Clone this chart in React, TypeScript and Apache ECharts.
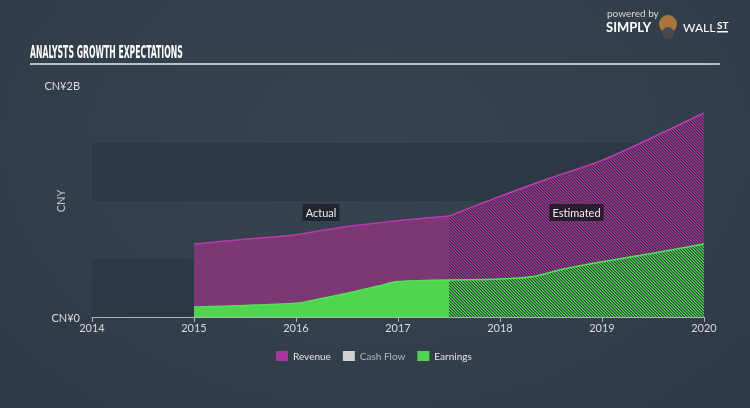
import React, { useEffect, useRef } from "react";
import * as echarts from "echarts";

const years = [2014, 2015, 2016, 2017, 2018, 2019, 2020];
const revenueActualX = [2015, 2015.5, 2016, 2016.5, 2017, 2017.5];
const revenueActual = [0.63, 0.67, 0.71, 0.78, 0.83, 0.87];
const revenueEstX = [2017.5, 2018, 2018.5, 2019, 2019.5, 2020];
const revenueEst = [0.87, 1.04, 1.2, 1.35, 1.55, 1.76];
const earningsActualX = [2015, 2015.5, 2016, 2016.2, 2016.5, 2016.8, 2017, 2017.5];
const earningsActual = [0.086, 0.1, 0.118, 0.15, 0.205, 0.265, 0.305, 0.32];
const earningsEstX = [2017.5, 2018, 2018.33, 2018.6, 2019, 2019.5, 2020];
const earningsEst = [0.32, 0.328, 0.35, 0.41, 0.477, 0.55, 0.63];
const legendNames = ["Revenue", "Cash Flow", "Earnings"];
const yTickLabels: Record<string, string> = { "0": "CN¥0", "2": "CN¥2B" };
const phaseLabels = [
  { name: "Actual", x: 2016.245, y: 0.9 },
  { name: "Estimated", x: 2018.75, y: 0.9 },
];

function hatch(a: string, m: string, b: string) {
  const c = document.createElement("canvas");
  c.width = 3;
  c.height = 3;
  const ctx = c.getContext("2d")!;
  for (let x = 0; x < 3; x++) {
    for (let y = 0; y < 3; y++) {
      const k = (((x - y) % 3) + 3) % 3;
      ctx.fillStyle = k === 0 ? a : k === 1 ? m : b;
      ctx.fillRect(x, y, 1, 1);
    }
  }
  return c;
}

function measure(text: string, font: string) {
  const ctx = document.createElement("canvas").getContext("2d")!;
  ctx.font = font;
  return ctx.measureText(text).width;
}

const pair = (xs: number[], ys: number[]) => xs.map((x, i) => [x, ys[i]]);

export default function App() {
  const ref = useRef<HTMLDivElement>(null);
  useEffect(() => {
    const chart = echarts.init(ref.current!, null, { renderer: "svg" });
    const titleText = "ANALYSTS GROWTH EXPECTATIONS";
    const titleFont = "bold 17px 'DejaVu Sans Condensed', 'DejaVu Sans'";
    const tw = measure(titleText, titleFont);
    const sx = 153 / tw;
    const font = "Lato, 'Open Sans', sans-serif";
    const revHatch = hatch("#a8389d", "#70326e", "#3a2b45");
    const earnHatch = hatch("#4fd54f", "#3f8f48", "#2f4a3c");

    chart.setOption({
      animation: false,
      backgroundColor: "transparent",
      textStyle: { fontFamily: font },
      grid: { left: 92, right: 46, top: 85, bottom: 91 },
      graphic: [
        {
          type: "text",
          x: 30,
          y: 52,
          scaleX: sx,
          style: {
            text: titleText,
            font: titleFont,
            fill: "#ffffff",
            verticalAlign: "middle",
          },
        },
        {
          type: "rect",
          shape: { x: 30, y: 63, width: 690, height: 2 },
          style: { fill: "#b9c0c8" },
        },
        {
          type: "text",
          x: 607,
          y: 13,
          style: { text: "powered by", font: `10px ${font}`, fill: "#d8d8d8", verticalAlign: "middle" },
        },
        {
          type: "text",
          x: 606,
          y: 27,
          style: { text: "SIMPLY", font: `bold 13px ${font}`, fill: "#ffffff", verticalAlign: "middle" },
        },
        {
          type: "circle",
          shape: { cx: 668, cy: 24, r: 9 },
          style: { fill: "#a9753c" },
        },
        {
          type: "circle",
          shape: { cx: 668, cy: 33, r: 6 },
          style: { fill: "#4a4a4a" },
        },
        {
          type: "text",
          x: 683,
          y: 27,
          style: { text: "WALL", font: `12px ${font}`, fill: "#ffffff", verticalAlign: "middle" },
        },
        {
          type: "text",
          x: 717,
          y: 25,
          style: { text: "ST", font: `bold 10px ${font}`, fill: "#ffffff", verticalAlign: "middle" },
        },
        {
          type: "rect",
          shape: { x: 717, y: 31, width: 11, height: 1.5 },
          style: { fill: "#ffffff" },
        },
      ],
      legend: {
        left: 276,
        top: 351,
        padding: 0,
        itemWidth: 12,
        itemHeight: 10,
        itemGap: 12,
        icon: "rect",
        data: [
          { name: legendNames[0], itemStyle: { color: "#a8389d" }, textStyle: { color: "#e6e6e6" } },
          { name: legendNames[1], itemStyle: { color: "#d0d0d0" }, textStyle: { color: "#b4b8bc" } },
          { name: legendNames[2], itemStyle: { color: "#4fd54f" }, textStyle: { color: "#e6e6e6" } },
        ],
        textStyle: { fontSize: 10, fontFamily: font },
        selectedMode: false,
      },
      xAxis: {
        type: "value",
        min: years[0],
        max: years[years.length - 1],
        interval: 1,
        axisLine: { lineStyle: { color: "#aab2ba", width: 1 } },
        axisTick: { show: true, length: 5, lineStyle: { color: "#aab2ba" } },
        axisLabel: { color: "#dcdcdc", fontSize: 11, margin: 5, formatter: (v: number) => String(v) },
        splitLine: { show: false },
      },
      yAxis: {
        type: "value",
        min: 0,
        max: 2,
        interval: 0.5,
        name: "CNY",
        nameLocation: "middle",
        nameGap: 26,
        nameRotate: 90,
        nameMoveOverlap: false,
        nameTextStyle: { color: "#c8ccd0", fontSize: 11 },
        axisLine: { show: false },
        axisTick: { show: false },
        axisLabel: {
          color: "#dcdcdc",
          fontSize: 11,
          margin: 12,
          formatter: (v: number) => yTickLabels[String(v)] ?? "",
        },
        splitLine: { show: false },
        splitArea: { show: true, areaStyle: { color: ["#2d3844", "rgba(0,0,0,0)"] } },
      },
      series: [
        {
          name: "Revenue",
          type: "line",
          data: pair(revenueActualX, revenueActual),
          symbol: "none",
          smooth: 0.3,
          lineStyle: { color: "#b83aac", width: 1.5 },
          itemStyle: { color: "#a8389d" },
          areaStyle: { color: "#7b3875", opacity: 1 },
          z: 2,
          markPoint: {
            symbol: "rect",
            symbolSize: 1,
            itemStyle: { color: "rgba(0,0,0,0)" },
            data: [
              {
                coord: [phaseLabels[0].x, phaseLabels[0].y],
                name: phaseLabels[0].name,
                label: { backgroundColor: "#1f2630" },
              },
              {
                coord: [phaseLabels[1].x, phaseLabels[1].y],
                name: phaseLabels[1].name,
                label: { backgroundColor: "#2a1b2d" },
              },
            ],
            label: {
              show: true,
              position: "inside",
              formatter: (p: any) => p.name,
              color: "#f0f0f0",
              fontSize: 11,
              fontFamily: font,
              padding: [3, 3, 3, 3],
            },
          },
        },
        {
          name: "Revenue",
          type: "line",
          data: pair(revenueEstX, revenueEst),
          symbol: "none",
          smooth: 0.3,
          lineStyle: { color: "#c23cb5", width: 1.5 },
          itemStyle: { color: "#a8389d" },
          areaStyle: { color: { image: revHatch, repeat: "repeat" }, opacity: 1 },
          z: 2,
        },
        {
          name: "Cash Flow",
          type: "line",
          data: [],
          itemStyle: { color: "#d0d0d0" },
        },
        {
          name: "Earnings",
          type: "line",
          data: pair(earningsActualX, earningsActual),
          symbol: "none",
          smooth: 0.3,
          lineStyle: { color: "#56e256", width: 1.5 },
          itemStyle: { color: "#4fd54f" },
          areaStyle: { color: "#4fd54f", opacity: 1 },
          z: 3,
        },
        {
          name: "Earnings",
          type: "line",
          data: pair(earningsEstX, earningsEst),
          symbol: "none",
          smooth: 0.3,
          lineStyle: { color: "#56e256", width: 1.5 },
          itemStyle: { color: "#4fd54f" },
          areaStyle: { color: { image: earnHatch, repeat: "repeat" }, opacity: 1 },
          z: 3,
        },
      ],
    });
    return () => chart.dispose();
  }, []);
  return (
    <div
      style={{
        position: "fixed",
        left: 0,
        top: 0,
        width: 750,
        height: 408,
        background: "radial-gradient(ellipse at 50% 35%, #37444f 0%, #333f4b 55%, #2e3945 100%)",
      }}
    >
      <div ref={ref} style={{ width: 750, height: 408 }} />
    </div>
  );
}
